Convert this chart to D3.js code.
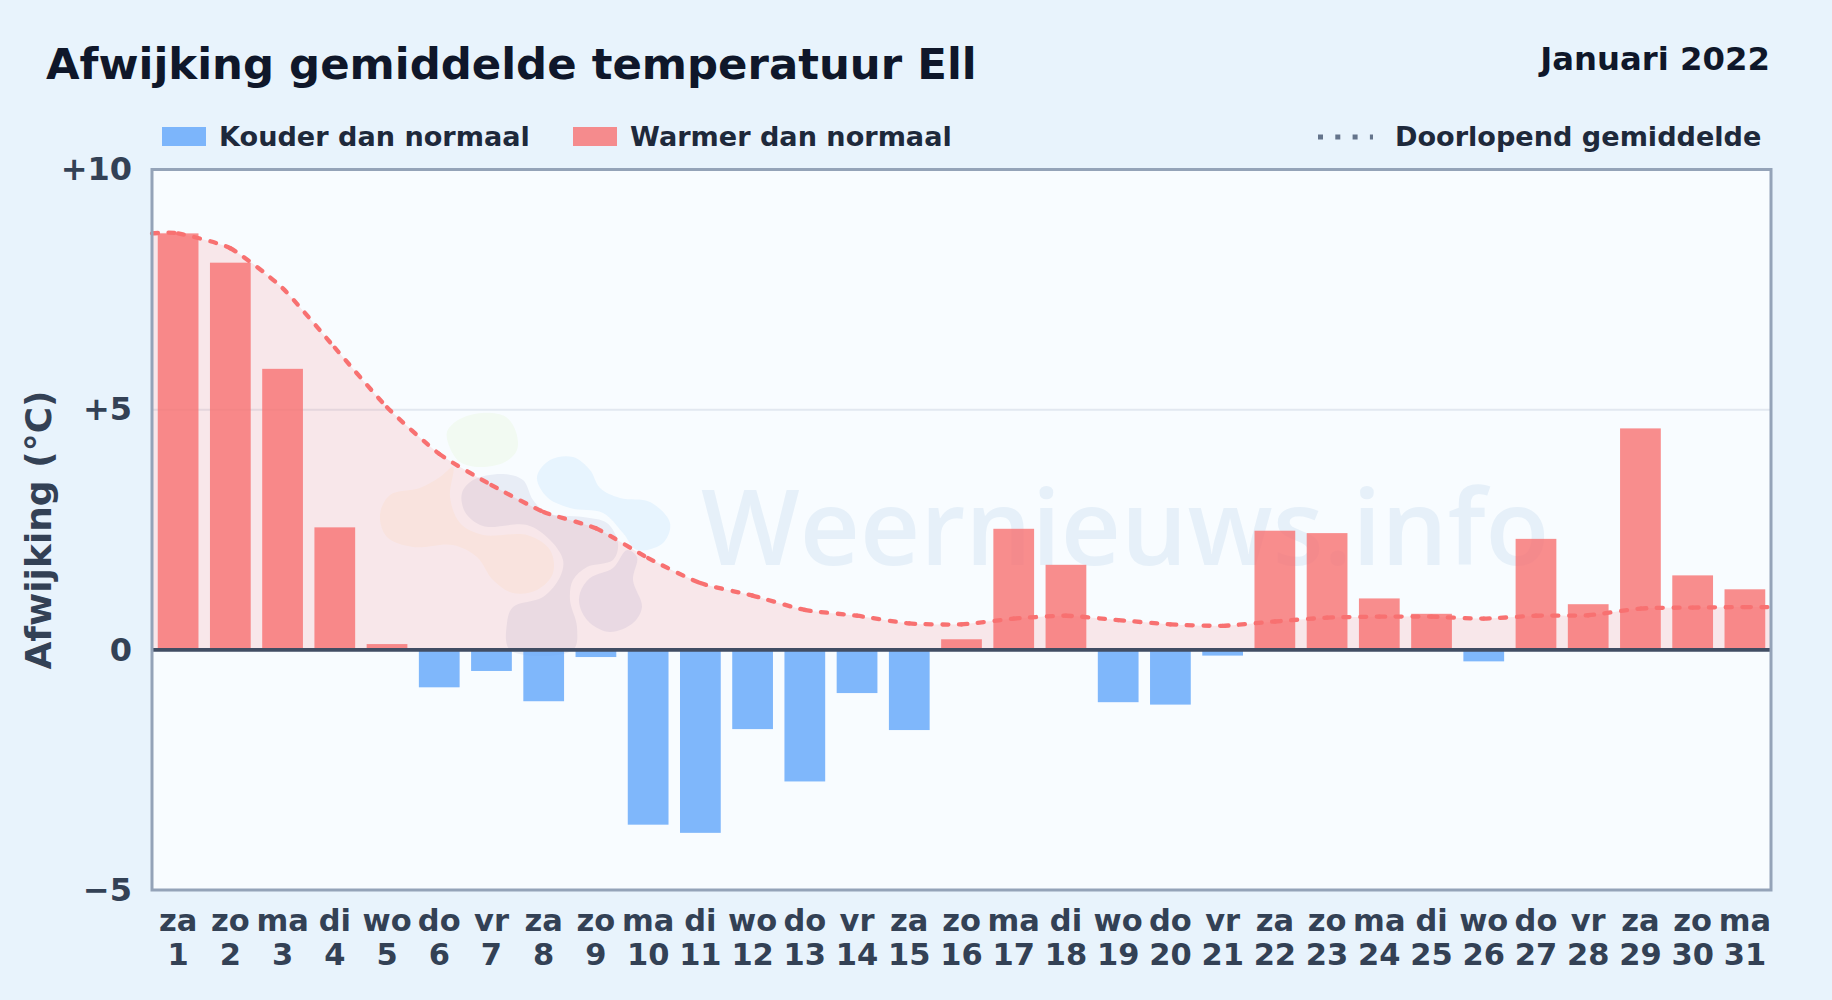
<!DOCTYPE html>
<html>
<head>
<meta charset="utf-8">
<title>Afwijking gemiddelde temperatuur Ell</title>
<script src="https://cdnjs.cloudflare.com/ajax/libs/d3/7.8.5/d3.min.js"></script>
<style>
    html, body { margin: 0; padding: 0; background: #e8f3fc; }
    svg { display: block; }
    text { font-family: "DejaVu Sans", sans-serif; font-weight: bold; }
</style>
</head>
<body>
<svg width="1832" height="1000"></svg>
<script>
var days = [ 1, 2, 3, 4, 5, 6, 7, 8, 9, 10, 11, 12, 13, 14, 15, 16, 17, 18, 19, 20, 21, 22, 23, 24, 25, 26, 27, 28, 29, 30, 31 ];
var weekdays = [ 'za', 'zo', 'ma', 'di', 'wo', 'do', 'vr', 'za', 'zo', 'ma', 'di', 'wo', 'do', 'vr', 'za', 'zo', 'ma', 'di', 'wo', 'do', 'vr', 'za', 'zo', 'ma', 'di', 'wo', 'do', 'vr', 'za', 'zo', 'ma' ];
var deviation = [ 8.67, 8.06, 5.85, 2.55, 0.12, -0.78, -0.44, -1.07, -0.15, -3.64, -3.81, -1.65, -2.74, -0.90, -1.67, 0.22, 2.52, 1.77, -1.09, -1.14, -0.12, 2.48, 2.43, 1.07, 0.75, -0.24, 2.31, 0.95, 4.61, 1.55, 1.26 ];
var meanDays = [ 0.5, 1, 2, 3, 4, 5, 6, 7, 8, 9, 10, 11, 12, 13, 14, 15, 16, 17, 18, 19, 20, 21, 22, 23, 24, 25, 26, 27, 28, 29, 30, 31, 31.5 ];
var runningMean = [ 8.67, 8.67, 8.36, 7.53, 6.29, 5.05, 4.08, 3.43, 2.87, 2.53, 1.91, 1.39, 1.13, 0.83, 0.71, 0.55, 0.53, 0.65, 0.71, 0.62, 0.53, 0.50, 0.59, 0.67, 0.69, 0.69, 0.65, 0.71, 0.72, 0.86, 0.88, 0.89, 0.89 ];
var yTicks = [ -5, 0, 5, 10 ];

var left = 152, right = 1771, top_ = 169.5, bottom = 890;

var svg = d3.select( 'svg' );

var x = d3.scaleBand()
    .domain( days )
    .range( [ left, right ] )
    .paddingInner( 0.22 )
    .paddingOuter( 0.11 );

var xDay = d3.scaleLinear()
    .domain( [ 0.5, 31.5 ] )
    .range( [ left, right ] );

var y = d3.scaleLinear()
    .domain( [ -5, 10 ] )
    .range( [ bottom, top_ ] );

svg.append( 'rect' )
    .attr( 'width', 1832 )
    .attr( 'height', 1000 )
    .attr( 'fill', '#e8f3fc' );

svg.append( 'rect' )
    .attr( 'x', left )
    .attr( 'y', top_ )
    .attr( 'width', right - left )
    .attr( 'height', bottom - top_ )
    .attr( 'fill', '#f8fcff' );

drawWatermark();

// gridline at +5
svg.append( 'line' )
    .attr( 'x1', left )
    .attr( 'x2', right )
    .attr( 'y1', y( 5 ) )
    .attr( 'y2', y( 5 ) )
    .attr( 'stroke', '#e2e8f0' )
    .attr( 'stroke-width', 2 );

var area = d3.area()
    .x( function( d, i ) { return xDay( meanDays[ i ] ); } )
    .y0( y( 0 ) )
    .y1( function( d ) { return y( d ); } )
    .curve( d3.curveCardinal.tension( 0.4 ) );

svg.append( 'path' )
    .attr( 'd', area( runningMean ) )
    .attr( 'fill', '#f87171' )
    .attr( 'fill-opacity', 0.15 );

svg.selectAll( '.bar' )
    .data( deviation )
    .enter()
    .append( 'rect' )
    .attr( 'class', 'bar' )
    .attr( 'x', function( d, i ) { return x( days[ i ] ); } )
    .attr( 'width', x.bandwidth() )
    .attr( 'y', function( d ) { return y( Math.max( d, 0 ) ); } )
    .attr( 'height', function( d ) { return Math.abs( y( d ) - y( 0 ) ); } )
    .attr( 'fill', function( d ) { return d < 0 ? '#60a5fa' : '#f87171'; } )
    .attr( 'fill-opacity', 0.8 );

svg.append( 'line' )
    .attr( 'x1', left )
    .attr( 'x2', right )
    .attr( 'y1', y( 0 ) )
    .attr( 'y2', y( 0 ) )
    .attr( 'stroke', '#414d63' )
    .attr( 'stroke-width', 3.7 );

var meanLine = d3.line()
    .x( function( d, i ) { return xDay( meanDays[ i ] ); } )
    .y( function( d ) { return y( d ); } )
    .curve( d3.curveCardinal.tension( 0.4 ) );

// every day-to-day piece starts its own dash pattern, as in the original
var pieces = meanLine( runningMean ).slice( 1 ).split( 'C' );
var pen = pieces[ 0 ];
pieces.slice( 1 ).forEach( function( piece ) {
    svg.append( 'path' )
        .attr( 'd', 'M' + pen + 'C' + piece )
        .attr( 'fill', 'none' )
        .attr( 'stroke', '#f87171' )
        .attr( 'stroke-width', 4.3 )
        .attr( 'stroke-linecap', 'round' )
        .attr( 'stroke-dasharray', '6 10.5' );
    var nums = piece.split( ',' );
    pen = nums[ nums.length - 2 ] + ',' + nums[ nums.length - 1 ];
});

svg.append( 'rect' )
    .attr( 'x', left )
    .attr( 'y', top_ )
    .attr( 'width', right - left )
    .attr( 'height', bottom - top_ )
    .attr( 'fill', 'none' )
    .attr( 'stroke', '#94a3b8' )
    .attr( 'stroke-width', 3 );

// axes
var yAxis = d3.axisLeft( y )
    .tickValues( yTicks )
    .tickSize( 0 )
    .tickPadding( 20 )
    .tickFormat( function( d ) {
        if ( d > 0 ) return '+' + d;
        if ( d < 0 ) return '\u2212' + Math.abs( d );
        return '0';
    });

var yGroup = svg.append( 'g' )
    .attr( 'transform', 'translate(' + left + ',0)' )
    .call( yAxis );
yGroup.select( '.domain' ).remove();
yGroup.selectAll( 'text' )
    .attr( 'font-size', 32 )
    .attr( 'font-family', '"DejaVu Sans", sans-serif' )
    .attr( 'fill', '#334155' );

var xAxis = d3.axisBottom( x ).tickSize( 0 ).tickFormat( '' );
var xGroup = svg.append( 'g' )
    .attr( 'transform', 'translate(0,' + bottom + ')' )
    .call( xAxis );
xGroup.select( '.domain' ).remove();
xGroup.selectAll( 'text' ).remove();
xGroup.selectAll( '.tick' ).each( function( d, i ) {
    var t = d3.select( this ).append( 'text' )
        .attr( 'text-anchor', 'middle' )
        .attr( 'font-size', 30.5 )
        .attr( 'fill', '#334155' );
    t.append( 'tspan' ).attr( 'x', 0 ).attr( 'y', 41 ).text( weekdays[ i ] );
    t.append( 'tspan' ).attr( 'x', 0 ).attr( 'y', 75 ).text( d );
});

svg.append( 'text' )
    .attr( 'transform', 'translate(51,530) rotate(-90)' )
    .attr( 'text-anchor', 'middle' )
    .attr( 'font-size', 36 )
    .attr( 'fill', '#334155' )
    .text( 'Afwijking (°C)' );

// title
svg.append( 'text' )
    .attr( 'x', 46 )
    .attr( 'y', 79 )
    .attr( 'font-size', 43.4 )
    .attr( 'fill', '#0f172a' )
    .text( 'Afwijking gemiddelde temperatuur Ell' );

svg.append( 'text' )
    .attr( 'x', 1770 )
    .attr( 'y', 70 )
    .attr( 'text-anchor', 'end' )
    .attr( 'font-size', 32.3 )
    .attr( 'fill', '#0f172a' )
    .text( 'Januari 2022' );

// legend
legendItem( 162, '#60a5fa', 'Kouder dan normaal', 219 );
legendItem( 573, '#f87171', 'Warmer dan normaal', 630 );

svg.append( 'line' )
    .attr( 'x1', 1318 )
    .attr( 'x2', 1373 )
    .attr( 'y1', 137 )
    .attr( 'y2', 137 )
    .attr( 'stroke', '#64748b' )
    .attr( 'stroke-width', 5 )
    .attr( 'stroke-dasharray', '5 12.3' );

svg.append( 'text' )
    .attr( 'x', 1395 )
    .attr( 'y', 146 )
    .attr( 'font-size', 27.1 )
    .attr( 'fill', '#1e293b' )
    .text( 'Doorlopend gemiddelde' );

function legendItem( xPos, color, label, textX ) {
    svg.append( 'rect' )
        .attr( 'x', xPos )
        .attr( 'y', 127 )
        .attr( 'width', 44 )
        .attr( 'height', 19 )
        .attr( 'fill', color )
        .attr( 'fill-opacity', 0.8 );

    svg.append( 'text' )
        .attr( 'x', textX )
        .attr( 'y', 146 )
        .attr( 'font-size', 27.1 )
        .attr( 'fill', '#1e293b' )
        .text( label );
}

// faint site logo and name behind the chart
function drawWatermark() {
    var blobs = [
        { color: '#f2faf2', outline: [ [ 447, 432 ], [ 458, 420 ], [ 482, 413 ], [ 506, 417 ], [ 516, 432 ], [ 517, 450 ], [ 505, 462 ], [ 480, 467 ], [ 460, 462 ], [ 450, 448 ] ] },
        { color: '#e7f4fe', outline: [ [ 537, 477 ], [ 550, 460 ], [ 573, 457 ], [ 590, 470 ], [ 600, 488 ], [ 620, 498 ], [ 650, 502 ], [ 670, 523 ], [ 663, 543 ], [ 637, 550 ], [ 623, 533 ], [ 603, 513 ], [ 570, 508 ], [ 547, 497 ] ] },
        { color: '#f9f7f1', outline: [ [ 380, 515 ], [ 390, 495 ], [ 420, 488 ], [ 440, 477 ], [ 453, 467 ], [ 450, 497 ], [ 460, 523 ], [ 483, 535 ], [ 527, 535 ], [ 550, 550 ], [ 553, 573 ], [ 537, 590 ], [ 513, 593 ], [ 493, 580 ], [ 477, 557 ], [ 453, 545 ], [ 413, 547 ], [ 387, 537 ] ] },
        { color: '#e8edf6', outline: [ [ 462, 493 ], [ 473, 480 ], [ 503, 474 ], [ 523, 480 ], [ 533, 500 ], [ 547, 513 ], [ 583, 517 ], [ 607, 523 ], [ 618, 543 ], [ 613, 560 ], [ 587, 567 ], [ 573, 580 ], [ 570, 600 ], [ 577, 627 ], [ 573, 650 ], [ 510, 650 ], [ 507, 623 ], [ 513, 607 ], [ 543, 597 ], [ 560, 577 ], [ 563, 560 ], [ 550, 540 ], [ 527, 525 ], [ 483, 526 ], [ 465, 512 ] ] },
        { color: '#e7ecf7', outline: [ [ 580, 593 ], [ 590, 578 ], [ 613, 568 ], [ 627, 550 ], [ 637, 557 ], [ 633, 580 ], [ 642, 607 ], [ 633, 623 ], [ 610, 632 ], [ 590, 623 ], [ 580, 607 ] ] }
    ];
    var blobLine = d3.line().curve( d3.curveCatmullRomClosed );

    svg.selectAll( '.blob' )
        .data( blobs )
        .enter()
        .append( 'path' )
        .attr( 'class', 'blob' )
        .attr( 'd', function( b ) { return blobLine( b.outline ); } )
        .attr( 'fill', function( b ) { return b.color; } );

    svg.append( 'text' )
        .attr( 'x', 701 )
        .attr( 'y', 565 )
        .attr( 'font-size', 104.5 )
        .style( 'font-family', '"Open Sans", sans-serif' )
        .style( 'font-weight', 600 )
        .attr( 'fill', '#e6f0f9' )
        .text( 'Weernieuws.info' );
}
</script>
</body>
</html>
